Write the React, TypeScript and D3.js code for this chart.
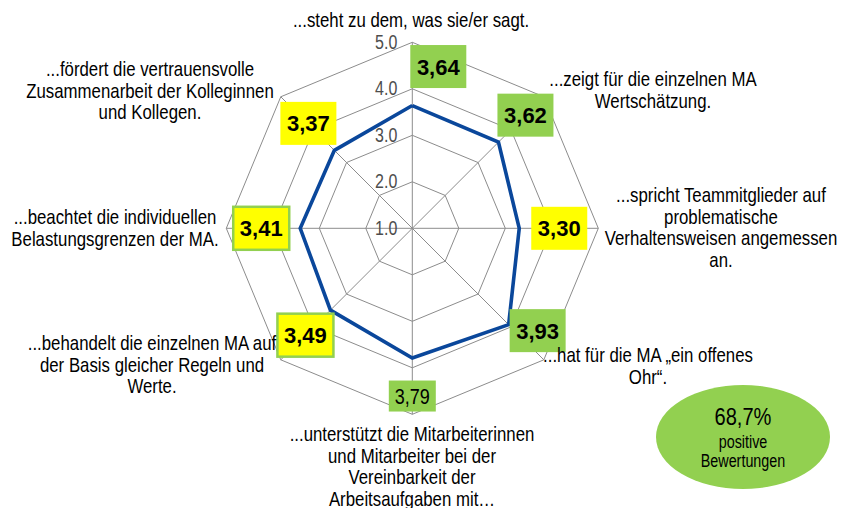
import React from "react";
import * as d3 from "d3";

// ---------- data ----------
const categories: string[] = [
  "...steht zu dem, was sie/er sagt.",
  "...zeigt für die einzelnen MA\nWertschätzung.",
  "...spricht Teammitglieder auf\nproblematische\nVerhaltensweisen angemessen\nan.",
  "...hat für die MA „ein offenes\nOhr“.",
  "...unterstützt die Mitarbeiterinnen\nund Mitarbeiter bei der\nVereinbarkeit der\nArbeitsaufgaben mit…",
  "...behandelt die einzelnen MA auf\nder Basis gleicher Regeln und\nWerte.",
  "...beachtet die individuellen\nBelastungsgrenzen der MA.",
  "...fördert die vertrauensvolle\nZusammenarbeit der Kolleginnen\nund Kollegen.",
];
const values: number[] = [3.64, 3.62, 3.3, 3.93, 3.79, 3.49, 3.41, 3.37];
const ticks: number[] = [1, 2, 3, 4, 5];
const tickLabels: string[] = ["1.0", "2.0", "3.0", "4.0", "5.0"];
const summaryValue = "68,7%";
const summaryText: string[] = ["positive", "Bewertungen"];

// ---------- layout / style ----------
const W = 841;
const H = 508;
const CX = 412.3;
const CY = 228.3;
const R = 186;
const SANS = "'Liberation Sans', Arial, sans-serif";
const NARROW_SCALE = 0.82;
const GREEN = "#92D050";
const YELLOW = "#FFFF00";
const BLUE = "#0a479b";
const GRID = "#8c8c8c";

// label box offsets relative to data point
const boxOffsets: [number, number][] = [
  [26, -39], [27, -27], [40, 0], [29, 6], [0, 38], [-25, 25], [-39, 0], [-26, -27],
];
const boxBorder: boolean[] = [false, false, false, false, false, true, true, false];
const boxSmall: boolean[] = [false, false, false, false, true, false, false, false];
// category label anchor: [centerX, firstBaselineY]
const catPos: [number, number][] = [
  [411, 27], [653, 86], [721, 202], [648, 362], [412, 441], [152, 350], [115, 224], [150, 76],
];
const LINE_H = 21.6;

type NTProps = {
  x: number;
  y: number;
  lines: string[];
  size: number;
  anchor?: "start" | "middle" | "end";
  fill?: string;
  lineH?: number;
  weight?: string;
};

function NarrowText({ x, y, lines, size, anchor = "middle", fill = "#000", lineH = 0, weight = "normal" }: NTProps) {
  return (
    <g transform={`translate(${x},${y})`}>
      <text
        transform={`scale(${NARROW_SCALE},1)`}
        textAnchor={anchor}
        fontFamily={SANS}
        fontSize={size}
        fontWeight={weight}
        fill={fill}
      >
        {lines.map((l, k) => (
          <tspan key={k} x={0} y={k * lineH}>
            {l}
          </tspan>
        ))}
      </text>
    </g>
  );
}

export default function App() {
  const n = categories.length;
  const r = d3.scaleLinear().domain([1, 5]).range([0, R]);
  const angle = d3.scaleLinear().domain([0, n]).range([0, 2 * Math.PI]);
  const pt = (i: number, v: number): [number, number] => {
    const a = angle(i);
    return [CX + r(v) * Math.sin(a), CY - r(v) * Math.cos(a)];
  };
  const ring = (v: number) =>
    d3.line()(d3.range(n + 1).map((i) => pt(i % n, v))) as string;
  const series = d3.line()(d3.range(n + 1).map((i) => pt(i % n, values[i % n]))) as string;
  const fmt = (v: number) => d3.format(".2f")(v).replace(".", ",");

  return (
    <svg
      width={W}
      height={H}
      style={{ position: "absolute", left: 0, top: 0, background: "#fff" }}
    >
      <rect width={W} height={H} fill="#fff" />
      {/* grid rings */}
      {ticks.slice(1).map((t) => (
        <path key={"ring" + t} d={ring(t)} fill="none" stroke={GRID} strokeWidth={1} />
      ))}
      {/* spokes */}
      {d3.range(n).map((i) => {
        const [x, y] = pt(i, 5);
        return <line key={"sp" + i} x1={CX} y1={CY} x2={x} y2={y} stroke={GRID} strokeWidth={1} />;
      })}
      {/* tick labels */}
      {ticks.map((t, k) => (
        <NarrowText
          key={"tl" + t}
          x={CX - 15}
          y={CY - r(t) + 6.5}
          anchor="end"
          size={19.5}
          fill="#4d4d4d"
          lines={[tickLabels[k]]}
        />
      ))}
      {/* series */}
      <path d={series} fill="none" stroke={BLUE} strokeWidth={3.6} strokeLinejoin="miter" />
      {/* data label boxes */}
      {values.map((v, i) => {
        const [px, py] = pt(i, v);
        const cx = px + boxOffsets[i][0];
        const cy = py + boxOffsets[i][1];
        const small = boxSmall[i];
        const bw = small ? 47 : 56;
        const bh = small ? 31 : 43;
        return (
          <g key={"lb" + i}>
            <rect
              x={cx - bw / 2}
              y={cy - bh / 2}
              width={bw}
              height={bh}
              fill={v >= 3.5 ? GREEN : YELLOW}
              stroke={boxBorder[i] ? GREEN : "none"}
              strokeWidth={2.5}
            />
            {small ? (
              <NarrowText x={cx} y={cy + 8} size={22} lines={[fmt(v)]} />
            ) : (
              <text
                x={cx}
                y={cy + 8}
                textAnchor="middle"
                fontFamily={SANS}
                fontWeight="bold"
                fontSize={22}
                fill="#000"
              >
                {fmt(v)}
              </text>
            )}
          </g>
        );
      })}
      {/* category labels */}
      {categories.map((c, i) => (
        <NarrowText
          key={"cat" + i}
          x={catPos[i][0]}
          y={catPos[i][1]}
          size={20.5}
          lineH={LINE_H}
          lines={c.split("\n")}
        />
      ))}
      {/* summary ellipse */}
      <ellipse cx={743} cy={437} rx={87} ry={52} fill={GREEN} />
      <NarrowText x={743} y={425} size={24.5} lines={[summaryValue]} />
      <NarrowText x={743} y={448} size={17.5} lineH={19.5} lines={summaryText} />
    </svg>
  );
}
